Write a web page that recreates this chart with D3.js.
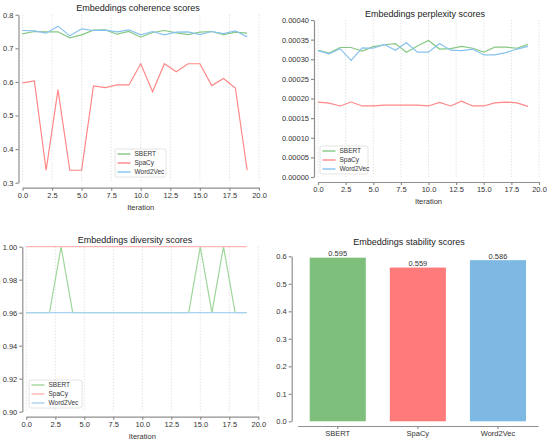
<!DOCTYPE html>
<html>
  <head>
    <meta charset="utf-8">
    <title>Embeddings scores</title>
    <style media="screen">
      body {margin:0; background:#fff}
      svg {font-family: "Liberation Sans", Arial, sans-serif}
      .axis path, .axis line {stroke: #8f8f8f; stroke-width: 1.2}
      .axis text {fill: #333; font-size: 7.5px}
      .grid line {stroke: #ddd; stroke-width: 0.8; stroke-dasharray: 1.5,1.5}
      .title {font-size: 9px; fill: #222; text-anchor: middle}
      .xlabel {font-size: 7.5px; fill: #333; text-anchor: middle}
    </style>
  </head>
  <body>
    <script src="https://cdn.jsdelivr.net/npm/d3@7"></script>
    <script type="text/javascript">

    // data
    const models = ['SBERT', 'SpaCy', 'Word2Vec']
    const iterations = d3.range(20)

    const coherenceSBERT = [0.743, 0.750, 0.749, 0.749, 0.731, 0.740, 0.754, 0.755, 0.742, 0.750, 0.733, 0.747, 0.753, 0.746, 0.741, 0.748, 0.750, 0.741, 0.748, 0.745]
    const coherenceSpaCy = [0.597, 0.603, 0.337, 0.577, 0.337, 0.337, 0.588, 0.583, 0.591, 0.591, 0.654, 0.571, 0.654, 0.630, 0.654, 0.654, 0.589, 0.610, 0.582, 0.337]
    const coherenceW2V = [0.753, 0.752, 0.745, 0.766, 0.737, 0.758, 0.753, 0.754, 0.749, 0.755, 0.740, 0.750, 0.740, 0.748, 0.749, 0.741, 0.750, 0.744, 0.752, 0.734]

    const perplexitySBERT = [0.000323, 0.000316, 0.000330, 0.000330, 0.000321, 0.000332, 0.000337, 0.000340, 0.000318, 0.000334, 0.000348, 0.000326, 0.000327, 0.000333, 0.000328, 0.000318, 0.000331, 0.000331, 0.000328, 0.000338]
    const perplexitySpaCy = [0.000191, 0.000188, 0.000181, 0.000191, 0.000181, 0.000181, 0.000183, 0.000183, 0.000183, 0.000183, 0.000181, 0.000190, 0.000181, 0.000193, 0.000181, 0.000181, 0.000189, 0.000191, 0.000189, 0.000180]
    const perplexityW2V = [0.000322, 0.000314, 0.000327, 0.000297, 0.000329, 0.000328, 0.000338, 0.000323, 0.000342, 0.000318, 0.000318, 0.000340, 0.000323, 0.000322, 0.000326, 0.000311, 0.000311, 0.000317, 0.000326, 0.000333]

    const diversitySBERT = [0.96, 0.96, 0.96, 1.00, 0.96, 0.96, 0.96, 0.96, 0.96, 0.96, 0.96, 0.96, 0.96, 0.96, 0.96, 1.00, 0.96, 1.00, 0.96, 0.96]
    const diversitySpaCy = [1.00, 1.00, 1.00, 1.00, 1.00, 1.00, 1.00, 1.00, 1.00, 1.00, 1.00, 1.00, 1.00, 1.00, 1.00, 1.00, 1.00, 1.00, 1.00, 1.00]
    const diversityW2V = [0.96, 0.96, 0.96, 0.96, 0.96, 0.96, 0.96, 0.96, 0.96, 0.96, 0.96, 0.96, 0.96, 0.96, 0.96, 0.96, 0.96, 0.96, 0.96, 0.96]

    const stability = [0.595, 0.559, 0.586]

    const xTicks = [0, 2.5, 5, 7.5, 10, 12.5, 15, 17.5, 20]
    const coherenceTicks = [0.3, 0.4, 0.5, 0.6, 0.7, 0.8]
    const perplexityTicks = [0, 0.00005, 0.0001, 0.00015, 0.0002, 0.00025, 0.0003, 0.00035, 0.0004]
    const diversityTicks = [0.90, 0.92, 0.94, 0.96, 0.98, 1.00]
    const stabilityTicks = [0, 0.1, 0.2, 0.3, 0.4, 0.5, 0.6]

    const lineColors = ['#86c882', '#ff8787', '#86c2ee']
    const paleColors = ['#9fd69b', '#ffb4b4', '#a8d2f2']
    const barColors = ['#7dbf7b', '#ff7b7b', '#7db9e3']

    const svg = d3.select('body').append('svg')
      .attr('width', 550)
      .attr('height', 442)

    function linePanel (o) {
      const g = svg.append('g')
      const x = d3.scaleLinear().domain([0, 20]).range([o.x0, o.x1])
      const y = d3.scaleLinear().domain(o.domain).range([o.y0, o.y1])

      // vertical dotted grid
      g.append('g').attr('class', 'grid')
        .selectAll('line').data(xTicks).join('line')
        .attr('x1', d => x(d)).attr('x2', d => x(d))
        .attr('y1', o.y1).attr('y2', o.y0)

      g.append('g').attr('class', 'axis')
        .attr('transform', `translate(0,${o.y0 + 5})`)
        .call(d3.axisBottom(x).tickValues(xTicks).tickFormat(d3.format('.1f')).tickSize(3).tickSizeOuter(0).tickPadding(2))

      g.append('g').attr('class', 'axis')
        .attr('transform', `translate(${o.x0 - 4},0)`)
        .call(d3.axisLeft(y).tickValues(o.ticks).tickFormat(d3.format(o.fmt)).tickSize(3).tickSizeOuter(0).tickPadding(2))

      const line = d3.line().x((d, i) => x(iterations[i])).y(d => y(d))

      o.series.forEach((s, i) => {
        g.append('path')
          .attr('d', line(s))
          .attr('fill', 'none')
          .attr('stroke', o.colors[i])
          .attr('stroke-width', 1.2)
      })

      g.append('text').attr('class', 'title')
        .attr('x', o.titleX).attr('y', o.titleY).text(o.title)
      g.append('text').attr('class', 'xlabel')
        .attr('x', (o.x0 + o.x1) / 2).attr('y', o.labelY).text('Iteration')

      // legend
      const lg = g.append('g').attr('transform', `translate(${o.lx},${o.ly})`)
      lg.append('rect')
        .attr('width', o.lw).attr('height', 28).attr('rx', 2)
        .attr('fill', '#fff').attr('fill-opacity', 0.85)
        .attr('stroke', '#ddd').attr('stroke-width', 0.8)
      models.forEach((m, i) => {
        const yy = 5 + i * 9
        lg.append('line')
          .attr('x1', 2.5).attr('x2', 15.5).attr('y1', yy).attr('y2', yy)
          .attr('stroke', o.colors[i]).attr('stroke-width', 1.4)
        lg.append('text')
          .attr('x', 19.5).attr('y', yy + 2.3)
          .attr('font-size', 6.5).attr('fill', '#333')
          .text(m)
      })
    }

    linePanel({
      title: 'Embeddings coherence scores', titleX: 138, titleY: 11,
      x0: 22.5, x1: 259, y0: 182.7, y1: 14.7, labelY: 210,
      domain: [0.3, 0.8], ticks: coherenceTicks, fmt: '.1f',
      series: [coherenceSBERT, coherenceSpaCy, coherenceW2V], colors: lineColors,
      lx: 115, ly: 149, lw: 51
    })

    linePanel({
      title: 'Embeddings perplexity scores', titleX: 425, titleY: 17,
      x0: 318, x1: 539, y0: 177, y1: 20, labelY: 204,
      domain: [0, 0.0004], ticks: perplexityTicks, fmt: '.5f',
      series: [perplexitySBERT, perplexitySpaCy, perplexityW2V], colors: lineColors,
      lx: 320, ly: 146, lw: 48
    })

    linePanel({
      title: 'Embeddings diversity scores', titleX: 135, titleY: 243,
      x0: 26.3, x1: 258.3, y0: 411.7, y1: 246.7, labelY: 439,
      domain: [0.9, 1.0], ticks: diversityTicks, fmt: '.2f',
      series: [diversitySBERT, diversitySpaCy, diversityW2V], colors: paleColors,
      lx: 29, ly: 380, lw: 53
    })

    // stability bars
    const bg = svg.append('g')
    const bx = d3.scaleBand().domain(models).range([297.7, 538]).paddingInner(0.3).paddingOuter(0.15)
    const by = d3.scaleLinear().domain([0, 0.6]).range([421.3, 256.3])

    bg.selectAll('rect').data(stability).join('rect')
      .attr('x', (d, i) => bx(models[i]))
      .attr('width', bx.bandwidth())
      .attr('y', d => by(d))
      .attr('height', d => by(0) - by(d))
      .attr('fill', (d, i) => barColors[i])

    bg.selectAll('text.val').data(stability).join('text')
      .attr('class', 'val')
      .attr('x', (d, i) => bx(models[i]) + bx.bandwidth() / 2)
      .attr('y', d => by(d) - 1.5)
      .attr('text-anchor', 'middle')
      .attr('font-size', 7.5).attr('fill', '#333')
      .text(d => d3.format('.3f')(d))

    bg.append('g').attr('class', 'axis')
      .attr('transform', 'translate(0,426)')
      .call(d3.axisBottom(bx).tickSize(3).tickSizeOuter(0).tickPadding(2))
      .selectAll('text').style('font-size', '7.5px')

    bg.append('g').attr('class', 'axis')
      .attr('transform', 'translate(291.7,0)')
      .call(d3.axisLeft(by).tickValues(stabilityTicks).tickFormat(d3.format('.1f')).tickSize(3).tickSizeOuter(0).tickPadding(2))

    bg.append('text').attr('class', 'title')
      .attr('x', 409).attr('y', 245).text('Embeddings stability scores')

    </script>
  </body>
</html>
